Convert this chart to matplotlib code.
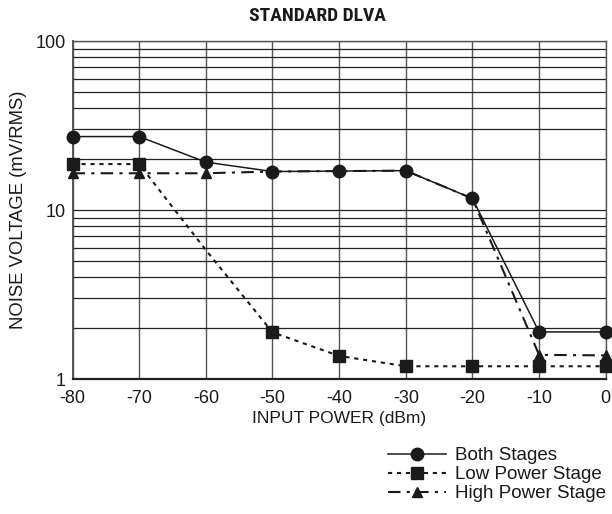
import matplotlib.pyplot as plt
import numpy as np
from matplotlib.ticker import LogLocator, NullFormatter

plt.rcParams['font.family'] = ['Liberation Sans', 'DejaVu Sans']

# Datos
power = [-80, -70, -60, -50, -40, -30, -20, -10, 0]
both_stages = [27.2, 27.2, 19.2, 16.9, 17.0, 17.1, 11.7, 1.9, 1.9]
low_power = [18.7, 18.7, 5.8, 1.89, 1.37, 1.19, 1.19, 1.19, 1.19]
high_power = [16.5, 16.5, 16.5, 16.9, 17.0, 17.1, 11.7, 1.39, 1.38]

x_ticks = [-80, -70, -60, -50, -40, -30, -20, -10, 0]
x_labels = ['-80', '-70', '-60', '-50', '-40', '-30', '-20', '-10', '0']

fig = plt.figure(figsize=(6.12, 5.14), dpi=100)
ax = fig.add_axes([0.1185, 0.2626, 0.8712, 0.6576])

ink = '#1a1a1a'

l1, = ax.plot(power, both_stages, '-', color=ink, lw=1.1,
              marker='o', ms=9, label='Both Stages', clip_on=False, zorder=5)
l2, = ax.plot(power, low_power, color=ink, lw=1.5, ls=(0, (2, 2.3)),
              marker='s', ms=8, markevery=[0, 1, 3, 4, 5, 6, 7, 8],
              label='Low Power Stage', clip_on=False, zorder=4)
l3, = ax.plot(power, high_power, color=ink, lw=1.5, ls=(0, (6, 3, 1.5, 3)),
              marker='^', ms=7.5, markevery=[0, 1, 2, 7, 8],
              label='High Power Stage', clip_on=False, zorder=3)

ax.set_yscale('log')
ax.set_xlim(-80, 0)
ax.set_ylim(1, 100)

ax.set_xticks(x_ticks)
ax.set_xticklabels(x_labels)
ax.set_yticks([1, 10, 100])
ax.set_yticklabels(['1', '10', '100'])
ax.yaxis.set_minor_locator(LogLocator(base=10, subs=np.arange(2, 10)))
ax.yaxis.set_minor_formatter(NullFormatter())

ax.tick_params(which='both', length=0, labelsize=13, colors=ink)
ax.tick_params(axis='x', pad=8)
ax.tick_params(axis='y', pad=5)
ax.grid(True, which='major', axis='x', color='#555555', lw=1.0)
ax.grid(True, which='both', axis='y', color='#222222', lw=0.9)

for s in ax.spines.values():
    s.set_color('#555555')
    s.set_linewidth(1.0)
ax.spines['bottom'].set_color('#222222')
ax.spines['bottom'].set_linewidth(1.6)
ax.spines['left'].set_linewidth(1.4)

ax.set_xlabel('INPUT POWER (dBm)', fontsize=12.5, color=ink, labelpad=3)
ax.set_ylabel('NOISE VOLTAGE (mV/RMS)', fontsize=13.3, color=ink, labelpad=6)

fig.text(0.518, 0.969, 'STANDARD DLVA', ha='center', va='center',
         fontsize=14, fontweight='bold', color=ink,
         family=['Roboto Condensed', 'Liberation Sans Narrow', 'Liberation Sans'])

fig.legend(handles=[l1, l2, l3], loc='upper left',
           bbox_to_anchor=(0.622, 0.145), frameon=False, fontsize=13.5,
           handlelength=3.1, handletextpad=0.47, labelspacing=0.1,
           borderaxespad=0, labelcolor=ink)

fig.savefig('out.png', dpi=100)
plt.close(fig)
